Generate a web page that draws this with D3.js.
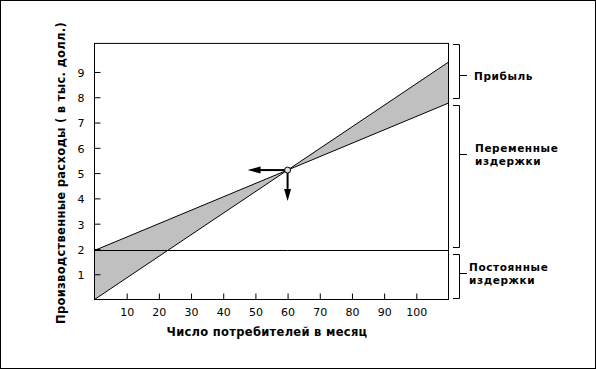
<!DOCTYPE html>
<html><head><meta charset="utf-8">
<script src="https://cdn.jsdelivr.net/npm/d3@7"></script>
<style>
html,body{margin:0;padding:0;background:#fff;}
svg{display:block;}
</style></head>
<body>
<script>
// ---- data ----
const quantity   = [0, 60, 110];          // customers per month
const revenue    = [0, 5.12, 9.39];       // thousand dollars
const totalCost  = [1.94, 5.12, 7.77];    // thousand dollars
const fixedCost  = [1.94, 1.94, 1.94];
const xTicks = [10, 20, 30, 40, 50, 60, 70, 80, 90, 100];
const yTicks = [1, 2, 3, 4, 5, 6, 7, 8, 9];
const breakEven = {q: 60, v: 5.12};
const bracketLabels = [["Прибыль"], ["Переменные", "издержки"], ["Постоянные", "издержки"]];
const xTitle = "Число потребителей в месяц";
const yTitle = "Производственные расходы ( в тыс. долл.)";

// ---- layout ----
const W = 596, H = 369;
const xMax = 110, yTop = 10.13;
const x = d3.scaleLinear().domain([0, xMax]).range([94.5, 448.5]);
const y = d3.scaleLinear().domain([0, 10]).range([299.5, 46.7]);

const svg = d3.select("body").append("svg").attr("width", W).attr("height", H);
svg.append("rect").attr("x", 0.5).attr("y", 0.5).attr("width", W - 1).attr("height", H - 1)
  .attr("fill", "#fff").attr("stroke", "#000");

const pts = quantity.map((q, i) => ({q, r: revenue[i], c: totalCost[i], f: fixedCost[i]}));

// shaded area between revenue and total cost
svg.append("path").datum(pts)
  .attr("d", d3.area().x(d => x(d.q)).y0(d => y(d.c)).y1(d => y(d.r)))
  .attr("fill", "#c0c0c0").attr("stroke", "none");

const line = acc => d3.line().x(d => x(d.q)).y(acc);
svg.append("path").datum(pts).attr("d", line(d => y(d.r))).attr("fill", "none").attr("stroke", "#000").attr("stroke-width", 1);
svg.append("path").datum(pts).attr("d", line(d => y(d.c))).attr("fill", "none").attr("stroke", "#000").attr("stroke-width", 1);
svg.append("path").datum(pts).attr("d", line(d => Math.round(y(d.f)) + 0.5)).attr("fill", "none").attr("stroke", "#000").attr("stroke-width", 1);

// frame
svg.append("rect").attr("x", x(0)).attr("y", y(yTop)).attr("width", x(xMax) - x(0)).attr("height", y(0) - y(yTop))
  .attr("fill", "none").attr("stroke", "#000");

// axes (ticks inside)
const xAxis = d3.axisBottom(x).tickValues(xTicks).tickSize(-6).tickPadding(9).tickSizeOuter(0);
const gx = svg.append("g").attr("transform", `translate(0,${y(0)})`).call(xAxis);
const yAxis = d3.axisLeft(y).tickValues(yTicks).tickSize(-6).tickPadding(10).tickSizeOuter(0);
const gy = svg.append("g").attr("transform", `translate(${x(0)},0)`).call(yAxis);
[gx, gy].forEach(g => {
  g.select(".domain").remove();
  g.selectAll(".tick line").attr("stroke", "#000");
  g.selectAll(".tick text").attr("fill", "#000").style("font-family", "DejaVu Sans").style("font-size", "11px");
});
gy.selectAll(".tick text").attr("dy", "0.4em");

// breakeven marker and arrows
const bx = x(breakEven.q), by = y(breakEven.v);
const arrow = svg.append("g");
arrow.append("line").attr("x1", bx - 2).attr("y1", by).attr("x2", bx - 32).attr("y2", by).attr("stroke", "#000").attr("stroke-width", 2);
arrow.append("path").attr("d", `M${bx - 40},${by} L${bx - 27},${by - 3.5} L${bx - 27},${by + 3.5}Z`).attr("fill", "#000");
arrow.append("line").attr("x1", bx).attr("y1", by).attr("x2", bx).attr("y2", by + 24).attr("stroke", "#000").attr("stroke-width", 2);
arrow.append("path").attr("d", `M${bx},${by + 31} L${bx - 3.5},${by + 19} L${bx + 3.5},${by + 19}Z`).attr("fill", "#000");
svg.append("circle").attr("cx", bx).attr("cy", by).attr("r", 3).attr("fill", "#e0e0e0").attr("stroke", "#000").attr("stroke-width", 1);

// brackets on right
const last = pts[pts.length - 1];
const bounds = [[y(yTop) + 1, y(last.c) - 5], [y(last.c) + 2, y(last.f) - 3.5], [y(last.f) + 3.5, y(0) - 2]];
const tickFrac = [0.575, 0.347, 0.446];
const bxv = 459.5, bxl = 453, bxr = 467;
const labelX = [474, 475, 469];
bounds.forEach(([t, b], i) => {
  const g = svg.append("g");
  const m = Math.round(t + (b - t) * tickFrac[i]) + 0.5;
  t = Math.round(t) + 0.5; b = Math.round(b) + 0.5;
  g.append("path").attr("d", `M${bxl},${t} H${bxv} V${b} H${bxl} M${bxv},${m} H${bxr}`)
    .attr("fill", "none").attr("stroke", "#000");
  const lines = bracketLabels[i];
  const t0 = m + 4 - (lines.length - 1) * 6.5;
  const txt = g.append("text").attr("x", labelX[i]).attr("y", t0)
    .style("font-family", "DejaVu Sans").style("font-weight", "bold").style("font-size", "10.5px")
    .style("letter-spacing", "0.6px").attr("fill", "#000");
  lines.forEach((s, j) => txt.append("tspan").attr("x", labelX[i]).attr("dy", j === 0 ? 0 : 13).text(s));
});

// titles
svg.append("text").attr("x", 267).attr("y", 336).attr("text-anchor", "middle")
  .style("font-family", "DejaVu Sans").style("font-weight", "bold").style("font-size", "11.5px")
  .style("letter-spacing", "0.3px").attr("fill", "#000").text(xTitle);
svg.append("text").attr("transform", "translate(65,173) rotate(-90)").attr("text-anchor", "middle")
  .style("font-family", "DejaVu Sans").style("font-weight", "bold").style("font-size", "11.5px")
  .style("letter-spacing", "0.3px").attr("fill", "#000").text(yTitle);
</script>
</body></html>
